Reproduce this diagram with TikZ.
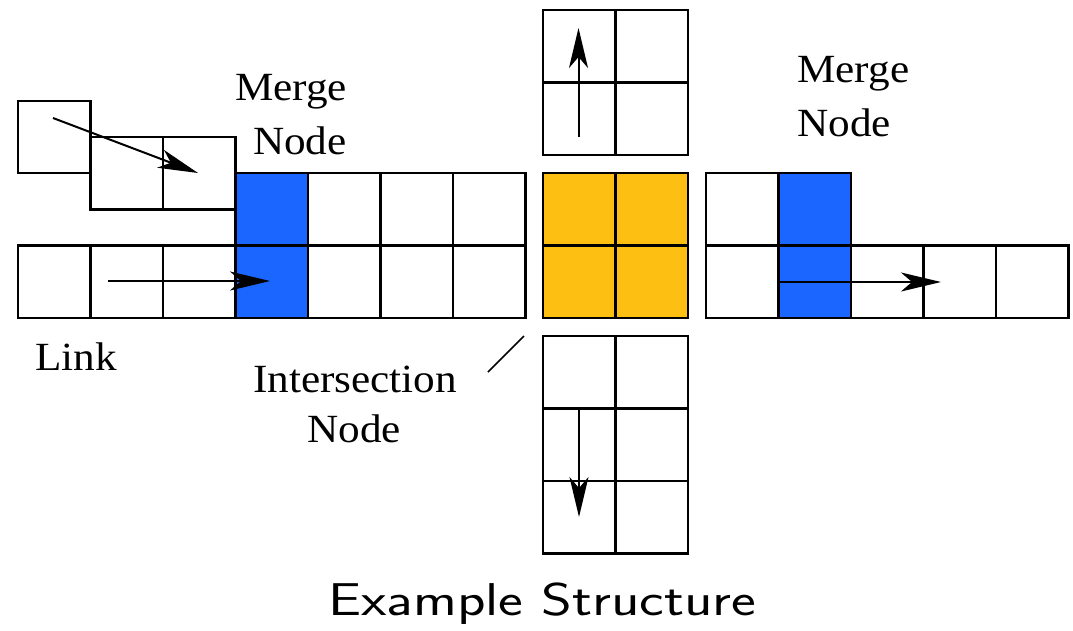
\documentclass[tikz,border=0pt]{standalone}
\usepackage{fontspec}
\setmainfont{Liberation Serif}
\usepackage{graphicx}
\usetikzlibrary{arrows.meta}
\definecolor{mergeblue}{RGB}{26,102,255}
\definecolor{crossyellow}{RGB}{253,191,17}
\newcommand\lbl[1]{\scalebox{1.08}[1]{\fontsize{40}{48}\selectfont #1}}
\begin{document}
\begin{tikzpicture}[x=1pt,y=-1pt,
  cell/.style={draw=black,line width=2.2pt},
  merge/.style={cell,fill=mergeblue},
  cross/.style={cell,fill=crossyellow},
  flow/.style={line width=2pt,-{Stealth[length=40pt,width=19pt,inset=11pt]}},
  tag/.style={inner sep=0pt,anchor=base west}]
\useasboundingbox (0,0) rectangle (1073,630);

% ---- incoming links (left) ----
\draw[cell] (18,101) rectangle (90.5,173);
\foreach \x in {90.5,163} \draw[cell] (\x,137) rectangle +(72.5,72.5);
\foreach \x in {18,90.5,163} \draw[cell] (\x,245.5) rectangle +(72.5,72.5);
\draw[merge] (235.5,173) rectangle +(72.5,72.5);
\draw[merge] (235.5,245.5) rectangle +(72.5,72.5);
\foreach \x in {308,380.5,453} {
  \draw[cell] (\x,173) rectangle +(72.5,72.5);
  \draw[cell] (\x,245.5) rectangle +(72.5,72.5);
}

% ---- intersection and its vertical links ----
\foreach \x in {543,615.5} {
  \foreach \y in {10,82.5} \draw[cell] (\x,\y) rectangle +(72.5,72.5);
  \foreach \y in {173,245.5} \draw[cross] (\x,\y) rectangle +(72.5,72.5);
  \foreach \y in {336,408.5,481} \draw[cell] (\x,\y) rectangle +(72.5,72.5);
}

% ---- outgoing side (right) ----
\draw[cell] (706,173) rectangle +(72.5,72.5);
\draw[cell] (706,245.5) rectangle +(72.5,72.5);
\draw[merge] (778.5,173) rectangle +(72.5,72.5);
\draw[merge] (778.5,245.5) rectangle +(72.5,72.5);
\foreach \x in {851,923.5,996} \draw[cell] (\x,245.5) rectangle +(72.5,72.5);

% ---- flow arrows ----
\coordinate (d0) at (53,118);   \coordinate (d1) at (198,173);
\coordinate (h0) at (108,281);  \coordinate (h1) at (270,281);
\coordinate (u0) at (578.5,137); \coordinate (u1) at (578.5,28);
\coordinate (v0) at (579,409);  \coordinate (v1) at (579,517);
\coordinate (r0) at (778.5,282); \coordinate (r1) at (941,282);
\draw[flow] (d0) -- (d1);
\draw[flow] (h0) -- (h1);
\draw[flow] (u0) -- (u1);
\draw[flow] (v0) -- (v1);
\draw[flow] (r0) -- (r1);

% ---- pointer to the intersection ----
\coordinate (p0) at (488,372);
\coordinate (p1) at (524,336);
\draw[line width=1.6pt] (p0) -- (p1);

% ---- labels ----
\node[tag] (m1a) at (235,100) {\lbl{Merge}};
\node[tag] (m1b) at (253,154) {\lbl{Node}};
\node[tag] (m2a) at (797,82) {\lbl{Merge}};
\node[tag] (m2b) at (797,136) {\lbl{Node}};
\node[tag] (lk) at (35,370) {\lbl{Link}};
\node[tag] (in1) at (253,392) {\lbl{Intersection}};
\node[inner sep=0pt,anchor=base] (in2) at (354,442) {\lbl{Node}};
\node[tag] (ttl) at (328,615) {\scalebox{1.28}[1]{\fontsize{46}{52}\selectfont\sffamily Example Structure}};
\end{tikzpicture}
\end{document}
